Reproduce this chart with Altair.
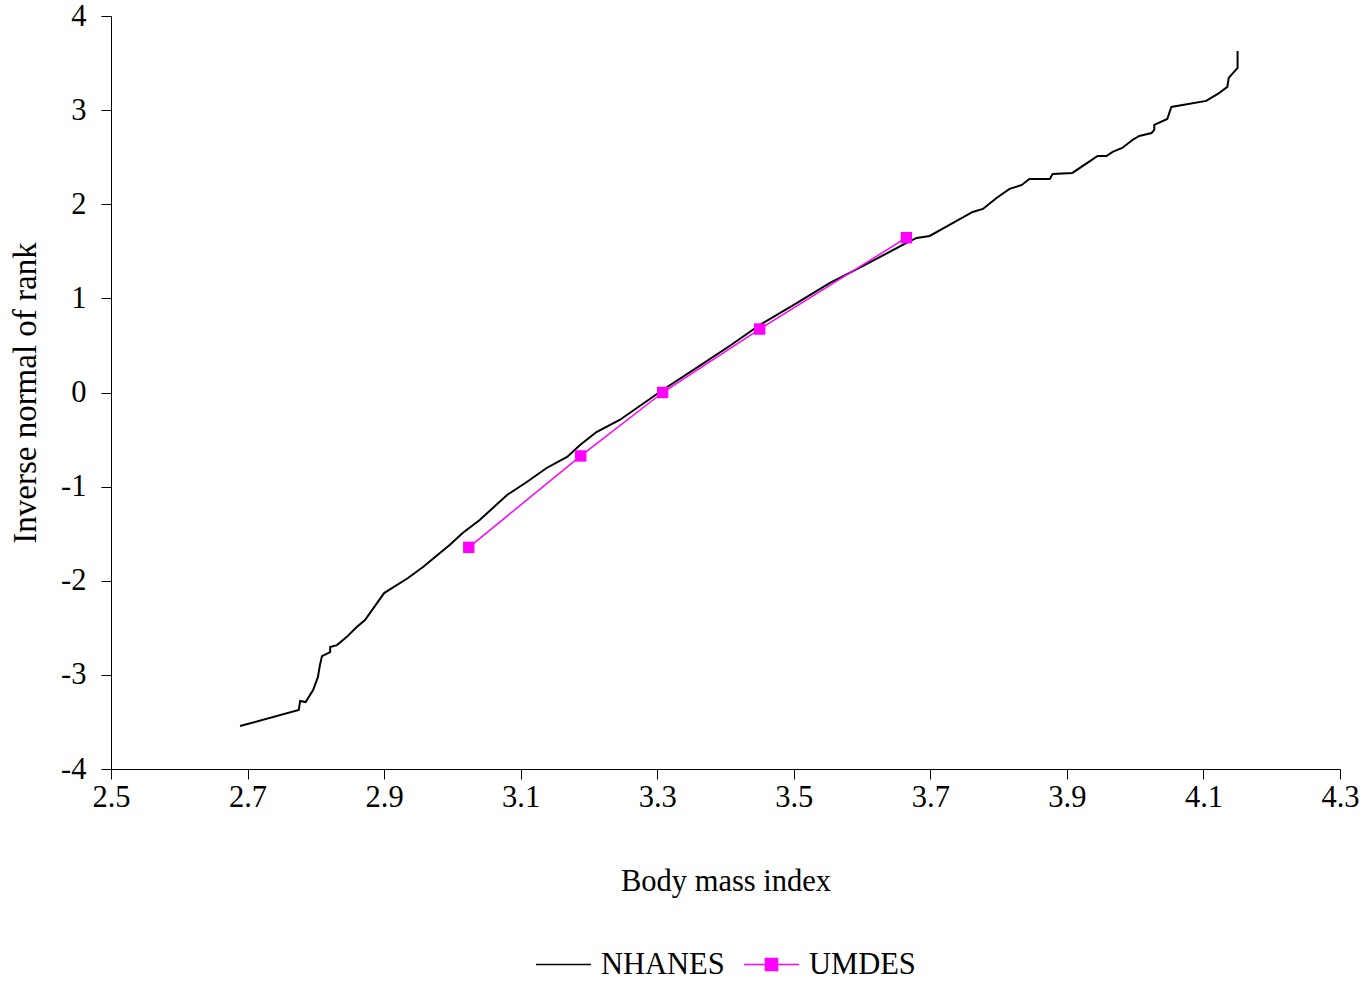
import altair as alt
import pandas as pd

# NHANES curve
nh_x = [2.689, 2.775, 2.777, 2.785, 2.796, 2.803, 2.806, 2.809, 2.821, 2.821,
        2.831, 2.845, 2.860, 2.872, 2.900, 2.935, 2.957, 2.996, 3.015, 3.040,
        3.080, 3.109, 3.138, 3.168, 3.187, 3.211, 3.245, 3.308, 3.362, 3.406,
        3.450, 3.500, 3.553, 3.596, 3.665, 3.680, 3.699, 3.728, 3.762, 3.777,
        3.797, 3.816, 3.834, 3.845, 3.875, 3.879, 3.908, 3.930, 3.945, 3.958,
        3.967, 3.981, 3.996, 4.006, 4.024, 4.028, 4.028, 4.047, 4.053, 4.104,
        4.121, 4.135, 4.137, 4.150, 4.150]
nh_y = [-3.544, -3.374, -3.278, -3.289, -3.162, -3.024, -2.896, -2.801, -2.758, -2.705,
        -2.684, -2.599, -2.492, -2.418, -2.131, -1.971, -1.854, -1.621, -1.493, -1.355,
        -1.089, -0.951, -0.802, -0.685, -0.558, -0.420, -0.292, 0.027, 0.282, 0.494,
        0.717, 0.930, 1.164, 1.323, 1.589, 1.642, 1.663, 1.780, 1.918, 1.950,
        2.067, 2.163, 2.205, 2.269, 2.269, 2.322, 2.333, 2.439, 2.513, 2.513,
        2.556, 2.598, 2.683, 2.725, 2.757, 2.789, 2.843, 2.906, 3.034, 3.098,
        3.172, 3.247, 3.342, 3.449, 3.629]

# UMDES points
um_x = [3.024, 3.188, 3.308, 3.450, 3.665]
um_y = [-1.645, -0.674, 0.0, 0.674, 1.645]

x_ticks = [2.5, 2.7, 2.9, 3.1, 3.3, 3.5, 3.7, 3.9, 4.1, 4.3]
y_ticks = [-4, -3, -2, -1, 0, 1, 2, 3, 4]

series_names = ["NHANES", "UMDES"]
series_colors = ["#000000", "#ff00ff"]

nh = pd.DataFrame({"x": nh_x, "y": nh_y, "series": "NHANES", "i": range(len(nh_x))})
um = pd.DataFrame({"x": um_x, "y": um_y, "series": "UMDES", "i": range(len(um_x))})
both = pd.concat([nh, um], ignore_index=True)

FONT = "Liberation Serif"

xenc = alt.X("x:Q", scale=alt.Scale(domain=[2.5, 4.3], nice=False, zero=False),
             axis=alt.Axis(title="Body mass index", values=x_ticks, format=".1f",
                           grid=False, tickSize=10, labelPadding=3, titlePadding=54,
                           labelFontSize=30.5, titleFontSize=30.5, labelFlush=False))
yenc = alt.Y("y:Q", scale=alt.Scale(domain=[-4, 4], nice=False, zero=False),
             axis=alt.Axis(title="Inverse normal of rank", values=y_ticks,
                           labelExpr="'' + datum.value",
                           grid=False, tickSize=10, labelPadding=15, titlePadding=18,
                           labelFontSize=30.5, titleFontSize=33, labelFlush=False))

line_nh = alt.Chart(nh).mark_line(color="#000000", strokeWidth=2).encode(
    x=xenc, y=yenc, order="i:Q")
line_um = alt.Chart(um).mark_line(color="#ff00ff", strokeWidth=1.5).encode(
    x="x:Q", y="y:Q", order="i:Q")
pts_um = alt.Chart(um).mark_square(color="#ff00ff", size=130, opacity=1).encode(
    x="x:Q", y="y:Q")

shape_paths = ["M-1,0H1", "M-1,0H1M-0.22,-0.22H0.22V0.22H-0.22Z"]
leg = alt.Legend(title=None, orient="none", legendX=424, legendY=920,
                 direction="horizontal", symbolSize=3025, symbolStrokeWidth=1.5,
                 symbolOpacity=1, labelFont=FONT, labelFontSize=30.5, labelColor="#000000",
                 labelOffset=9, columnPadding=16, labelLimit=400)
legend_layer = alt.Chart(both).mark_point(filled=True, opacity=0).encode(
    x="x:Q", y="y:Q",
    fill=alt.Fill("series:N", scale=alt.Scale(domain=series_names, range=series_colors), legend=leg),
    stroke=alt.Stroke("series:N", scale=alt.Scale(domain=series_names, range=series_colors), legend=leg),
    shape=alt.Shape("series:N", scale=alt.Scale(domain=series_names, range=shape_paths), legend=leg),
)

chart = alt.layer(line_nh, line_um, pts_um, legend_layer).properties(
    width=1229, height=753,
    autosize=alt.AutoSizeParams(type="none"),
    padding={"left": 111, "top": 16, "right": 25, "bottom": 213},
    background="white",
).configure_view(stroke=None).configure_axis(
    labelFont=FONT, titleFont=FONT,
    labelColor="#000000", titleColor="#000000", titleFontWeight="normal",
    domainColor="#000000", tickColor="#000000", domainWidth=1, tickWidth=1,
)

chart.save("out.html", embed_options={"renderer": "svg", "actions": False})
